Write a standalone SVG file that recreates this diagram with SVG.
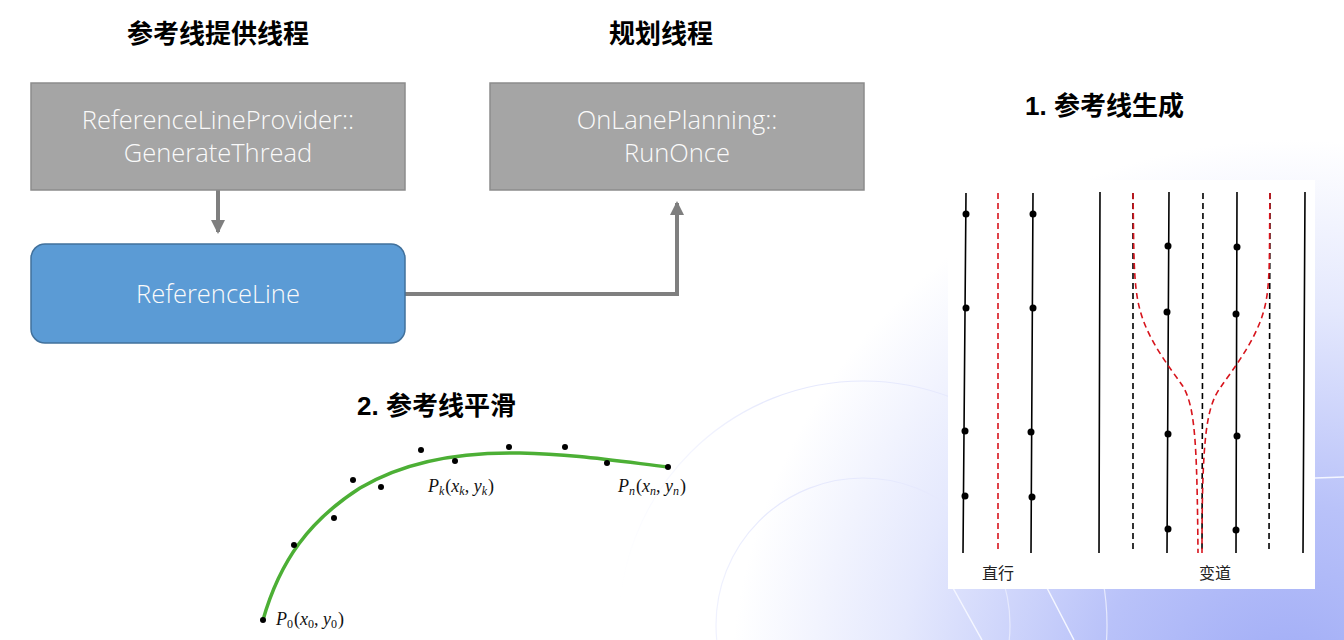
<svg xmlns="http://www.w3.org/2000/svg" width="1344" height="640" viewBox="0 0 1344 640">
<defs>
<radialGradient id="bg" cx="1290" cy="700" r="560" gradientUnits="userSpaceOnUse">
<stop offset="0" stop-color="#9eaaf6"/>
<stop offset="0.35" stop-color="#b9c2f9"/>
<stop offset="0.7" stop-color="#e4e8fd"/>
<stop offset="1" stop-color="#ffffff"/>
</radialGradient>
<linearGradient id="fadeArc" x1="620" y1="0" x2="1000" y2="0" gradientUnits="userSpaceOnUse">
<stop offset="0" stop-color="#e6e9fd" stop-opacity="0"/>
<stop offset="0.4" stop-color="#e6e9fd" stop-opacity="1"/>
</linearGradient>
<marker id="arr" markerWidth="14" markerHeight="14" refX="12" refY="7" orient="auto" markerUnits="userSpaceOnUse">
<path d="M0,0 L14,7 L0,14 Z" fill="#7f7f7f"/>
</marker>
<style>
.title{font-family:"Liberation Sans","Noto Sans CJK SC",sans-serif;font-weight:bold;fill:#000}
.box{fill:#a5a5a5;stroke:#8c8c8c;stroke-width:1.5}
.btxt{font-family:"Open Sans","Noto Sans",sans-serif;font-weight:300;font-size:25.5px;fill:#fafafa;text-anchor:middle}
.conn{fill:none;stroke:#7f7f7f;stroke-width:4}
.lane{stroke:#000;stroke-width:1.6;fill:none}
.dash{stroke:#000;stroke-width:1.6;fill:none;stroke-dasharray:6 4}
.red{stroke:#d7141c;stroke-width:1.6;fill:none;stroke-dasharray:6 4}
.dot{fill:#000}
.math{font-family:"Liberation Serif",serif;font-size:18px;fill:#111}
.cn{font-family:"Noto Sans CJK SC",sans-serif;font-size:16px;fill:#222;text-anchor:middle}
</style>
</defs>
<rect width="1344" height="640" fill="#ffffff"/>
<rect width="1344" height="640" fill="url(#bg)"/>
<g id="bg-deco" fill="none" stroke="url(#fadeArc)" stroke-width="1.2">
<circle cx="863" cy="625" r="147"/>
<circle cx="863" cy="625" r="244"/>
<path d="M953,588 L982,640 M1047,588 L1074,640 M1315,478 L1344,477" stroke="#f4f6ff" stroke-width="1.5"/>
</g>

<text class="title" x="218" y="43" font-size="26" text-anchor="middle">参考线提供线程</text>
<text class="title" x="661" y="43" font-size="26" text-anchor="middle">规划线程</text>

<g id="connectors">
<path class="conn" d="M218,190 L218,232" marker-end="url(#arr)"/>
<path class="conn" d="M405,294 L677,294 L677,203" marker-end="url(#arr)"/>
</g>

<g id="node-provider">
<rect class="box" x="31" y="83" width="374" height="107"/>
<text class="btxt" x="218" y="129">ReferenceLineProvider::</text>
<text class="btxt" x="218" y="162">GenerateThread</text>
</g>
<g id="node-planning">
<rect class="box" x="490" y="83" width="374" height="107"/>
<text class="btxt" x="677" y="129">OnLanePlanning::</text>
<text class="btxt" x="677" y="162">RunOnce</text>
</g>
<g id="node-refline">
<rect x="31" y="244" width="374" height="99" rx="14" fill="#5b9bd5" stroke="#41719c" stroke-width="1.5"/>
<text class="btxt" x="218" y="303">ReferenceLine</text>
</g>

<g id="gen-section">
<text class="title" x="1025" y="115" font-size="26">1. 参考线生成</text>
<rect x="948" y="180" width="367" height="409" fill="#ffffff"/>
<path class="lane" d="M966,193 L963,553 M1033,193 L1031,553"/>
<path class="red" d="M998,193 L998,553"/>
<g class="dot">
<circle cx="966" cy="214" r="3.5"/><circle cx="966" cy="308" r="3.5"/><circle cx="965" cy="431" r="3.5"/><circle cx="965" cy="496" r="3.5"/>
<circle cx="1033" cy="214" r="3.5"/><circle cx="1033" cy="308" r="3.5"/><circle cx="1031" cy="432" r="3.5"/><circle cx="1032" cy="497" r="3.5"/>
</g>
<path class="lane" d="M1100,192 L1099,553 M1169,192 L1167,553 M1237,192 L1236,553 M1305,192 L1303,553"/>
<path class="dash" d="M1133,193 L1133,553 M1203,193 L1202,553 M1270,193 L1269,553"/>
<path class="red" d="M1133,193 C1134,250 1133,285 1140,310 C1148,340 1168,365 1182,385 C1195,405 1197,440 1198,553"/>
<path class="red" d="M1270,193 C1269,250 1271,285 1264,310 C1256,340 1234,368 1220,388 C1206,408 1202,440 1202,553"/>
<g class="dot">
<circle cx="1168" cy="246" r="3.5"/><circle cx="1167" cy="312" r="3.5"/><circle cx="1168" cy="434" r="3.5"/><circle cx="1168" cy="529" r="3.5"/>
<circle cx="1237" cy="247" r="3.5"/><circle cx="1236" cy="314" r="3.5"/><circle cx="1237" cy="436" r="3.5"/><circle cx="1236" cy="530" r="3.5"/>
</g>
<text class="cn" x="998" y="579">直行</text>
<text class="cn" x="1215" y="579">变道</text>
</g>

<g id="smooth-section">
<text class="title" x="357" y="415" font-size="26">2. 参考线平滑</text>
<path d="M263,620 C280,560 310,520 360,488 C410,458 470,452 520,453 C570,454 610,460 668,467" fill="none" stroke="#4caf35" stroke-width="3.5" stroke-linecap="round"/>
<g class="dot">
<circle cx="263" cy="620" r="3"/><circle cx="294" cy="545" r="3"/><circle cx="334" cy="518" r="3"/>
<circle cx="353" cy="480" r="3"/><circle cx="381" cy="487" r="3"/><circle cx="421" cy="450" r="3"/>
<circle cx="455" cy="461" r="3"/><circle cx="509" cy="447" r="3"/><circle cx="565" cy="447" r="3"/>
<circle cx="607" cy="463" r="3"/><circle cx="668" cy="467" r="3"/>
</g>
<text class="math" x="276" y="625"><tspan font-style="italic">P</tspan><tspan font-size="12" dy="3">0</tspan><tspan dy="-3" dx="1">(</tspan><tspan font-style="italic">x</tspan><tspan font-size="12" dy="3">0</tspan><tspan dy="-3">, </tspan><tspan font-style="italic">y</tspan><tspan font-size="12" dy="3">0</tspan><tspan dy="-3" dx="1">)</tspan></text>
<text class="math" x="428" y="492"><tspan font-style="italic">P</tspan><tspan font-size="12" font-style="italic" dy="3">k</tspan><tspan dy="-3" dx="1">(</tspan><tspan font-style="italic">x</tspan><tspan font-size="12" font-style="italic" dy="3">k</tspan><tspan dy="-3">, </tspan><tspan font-style="italic">y</tspan><tspan font-size="12" font-style="italic" dy="3">k</tspan><tspan dy="-3" dx="1">)</tspan></text>
<text class="math" x="618" y="492"><tspan font-style="italic">P</tspan><tspan font-size="12" font-style="italic" dy="3">n</tspan><tspan dy="-3" dx="1">(</tspan><tspan font-style="italic">x</tspan><tspan font-size="12" font-style="italic" dy="3">n</tspan><tspan dy="-3">, </tspan><tspan font-style="italic">y</tspan><tspan font-size="12" font-style="italic" dy="3">n</tspan><tspan dy="-3" dx="1">)</tspan></text>
</g>
</svg>
